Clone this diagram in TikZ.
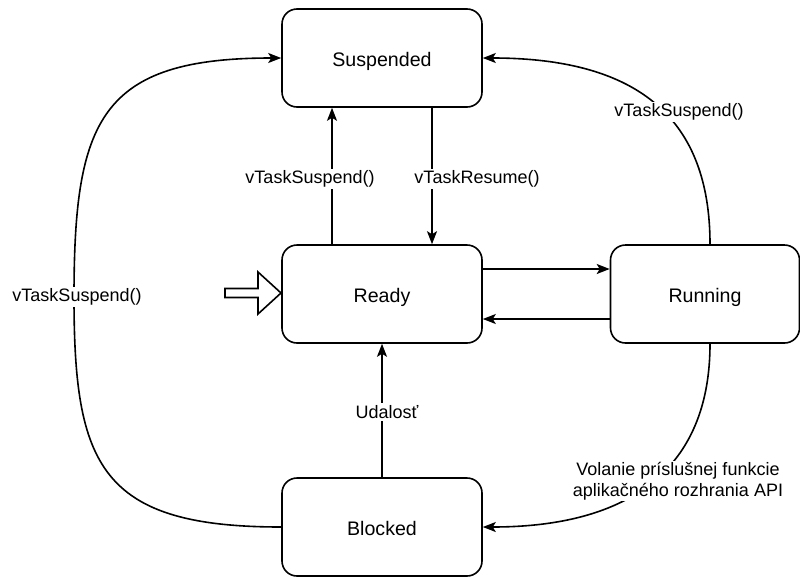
\documentclass[tikz,border=0pt]{standalone}
\usepackage{fontspec}
\setmainfont{Liberation Sans}
\usetikzlibrary{arrows.meta,calc}
\begin{document}
\begin{tikzpicture}[x=1pt,y=-1pt,
  state/.style={draw,line width=1.6pt,rounded corners=15pt,minimum width=200pt,minimum height=98pt,inner sep=0pt,text height=17.5pt,text depth=0pt,font=\fontsize{19.6}{23}\selectfont},
  conn/.style={line width=1.6pt,-{Stealth[length=13pt,width=10pt,inset=3pt]}},
  plain/.style={line width=1.6pt},
  lbl/.style={fill=white,inner sep=2pt,font=\fontsize{18}{21}\selectfont,align=center}]
\useasboundingbox (0,0) rectangle (800,576);
\node[state] (susp) at (382,58) {Suspended};
\node[state] (ready) at (382,294) {Ready};
\node[state,minimum width=189pt] (run) at (705,294) {Running};
\node[state] (blk) at (382,527) {Blocked};
% straight connectors
\draw[conn] ([xshift=-50pt]ready.north) -- ([xshift=-50pt]susp.south);
\draw[conn] ([xshift=50pt]susp.south) -- ([xshift=50pt]ready.north);
\draw[conn] ([yshift=25pt]ready.east) -- ([yshift=25pt]run.west);
\draw[conn] ([yshift=-25pt]run.west) -- ([yshift=-25pt]ready.east);
\draw[conn] (blk.north) -- (ready.north |- ready.south);
% curved connectors
\coordinate (lmid) at (74,297);
\draw[conn] (blk.west) .. controls (100,527) and (74,465) .. (lmid) .. controls (74,120) and (100,58) .. (susp.west);
\draw[conn] ([xshift=5pt]run.north) .. controls (710,120) and (640,58) .. (susp.east);
\draw[conn] ([xshift=5pt]run.south) .. controls (710,460) and (640,527) .. (blk.east);
% entry arrow
\draw[plain,line join=miter] (225,288.5) -- (258,288.5) -- (258,272) -- (281,293) -- (258,314) -- (258,297.5) -- (225,297.5) -- cycle;
% labels
\node[lbl] (l1) at (310,179) {vTaskSuspend()};
\node[lbl] (l2) at (477,179) {vTaskResume()};
\node[lbl] (l3) at (77,297) {vTaskSuspend()};
\node[lbl] (l4) at (387,412) {Udalosť};
\node[lbl] (l5) at (679,112) {vTaskSuspend()};
\node[lbl,inner sep=1pt] (l6) at (678,481) {Volanie príslušnej funkcie\\aplikačného rozhrania API};
\end{tikzpicture}
\end{document}
